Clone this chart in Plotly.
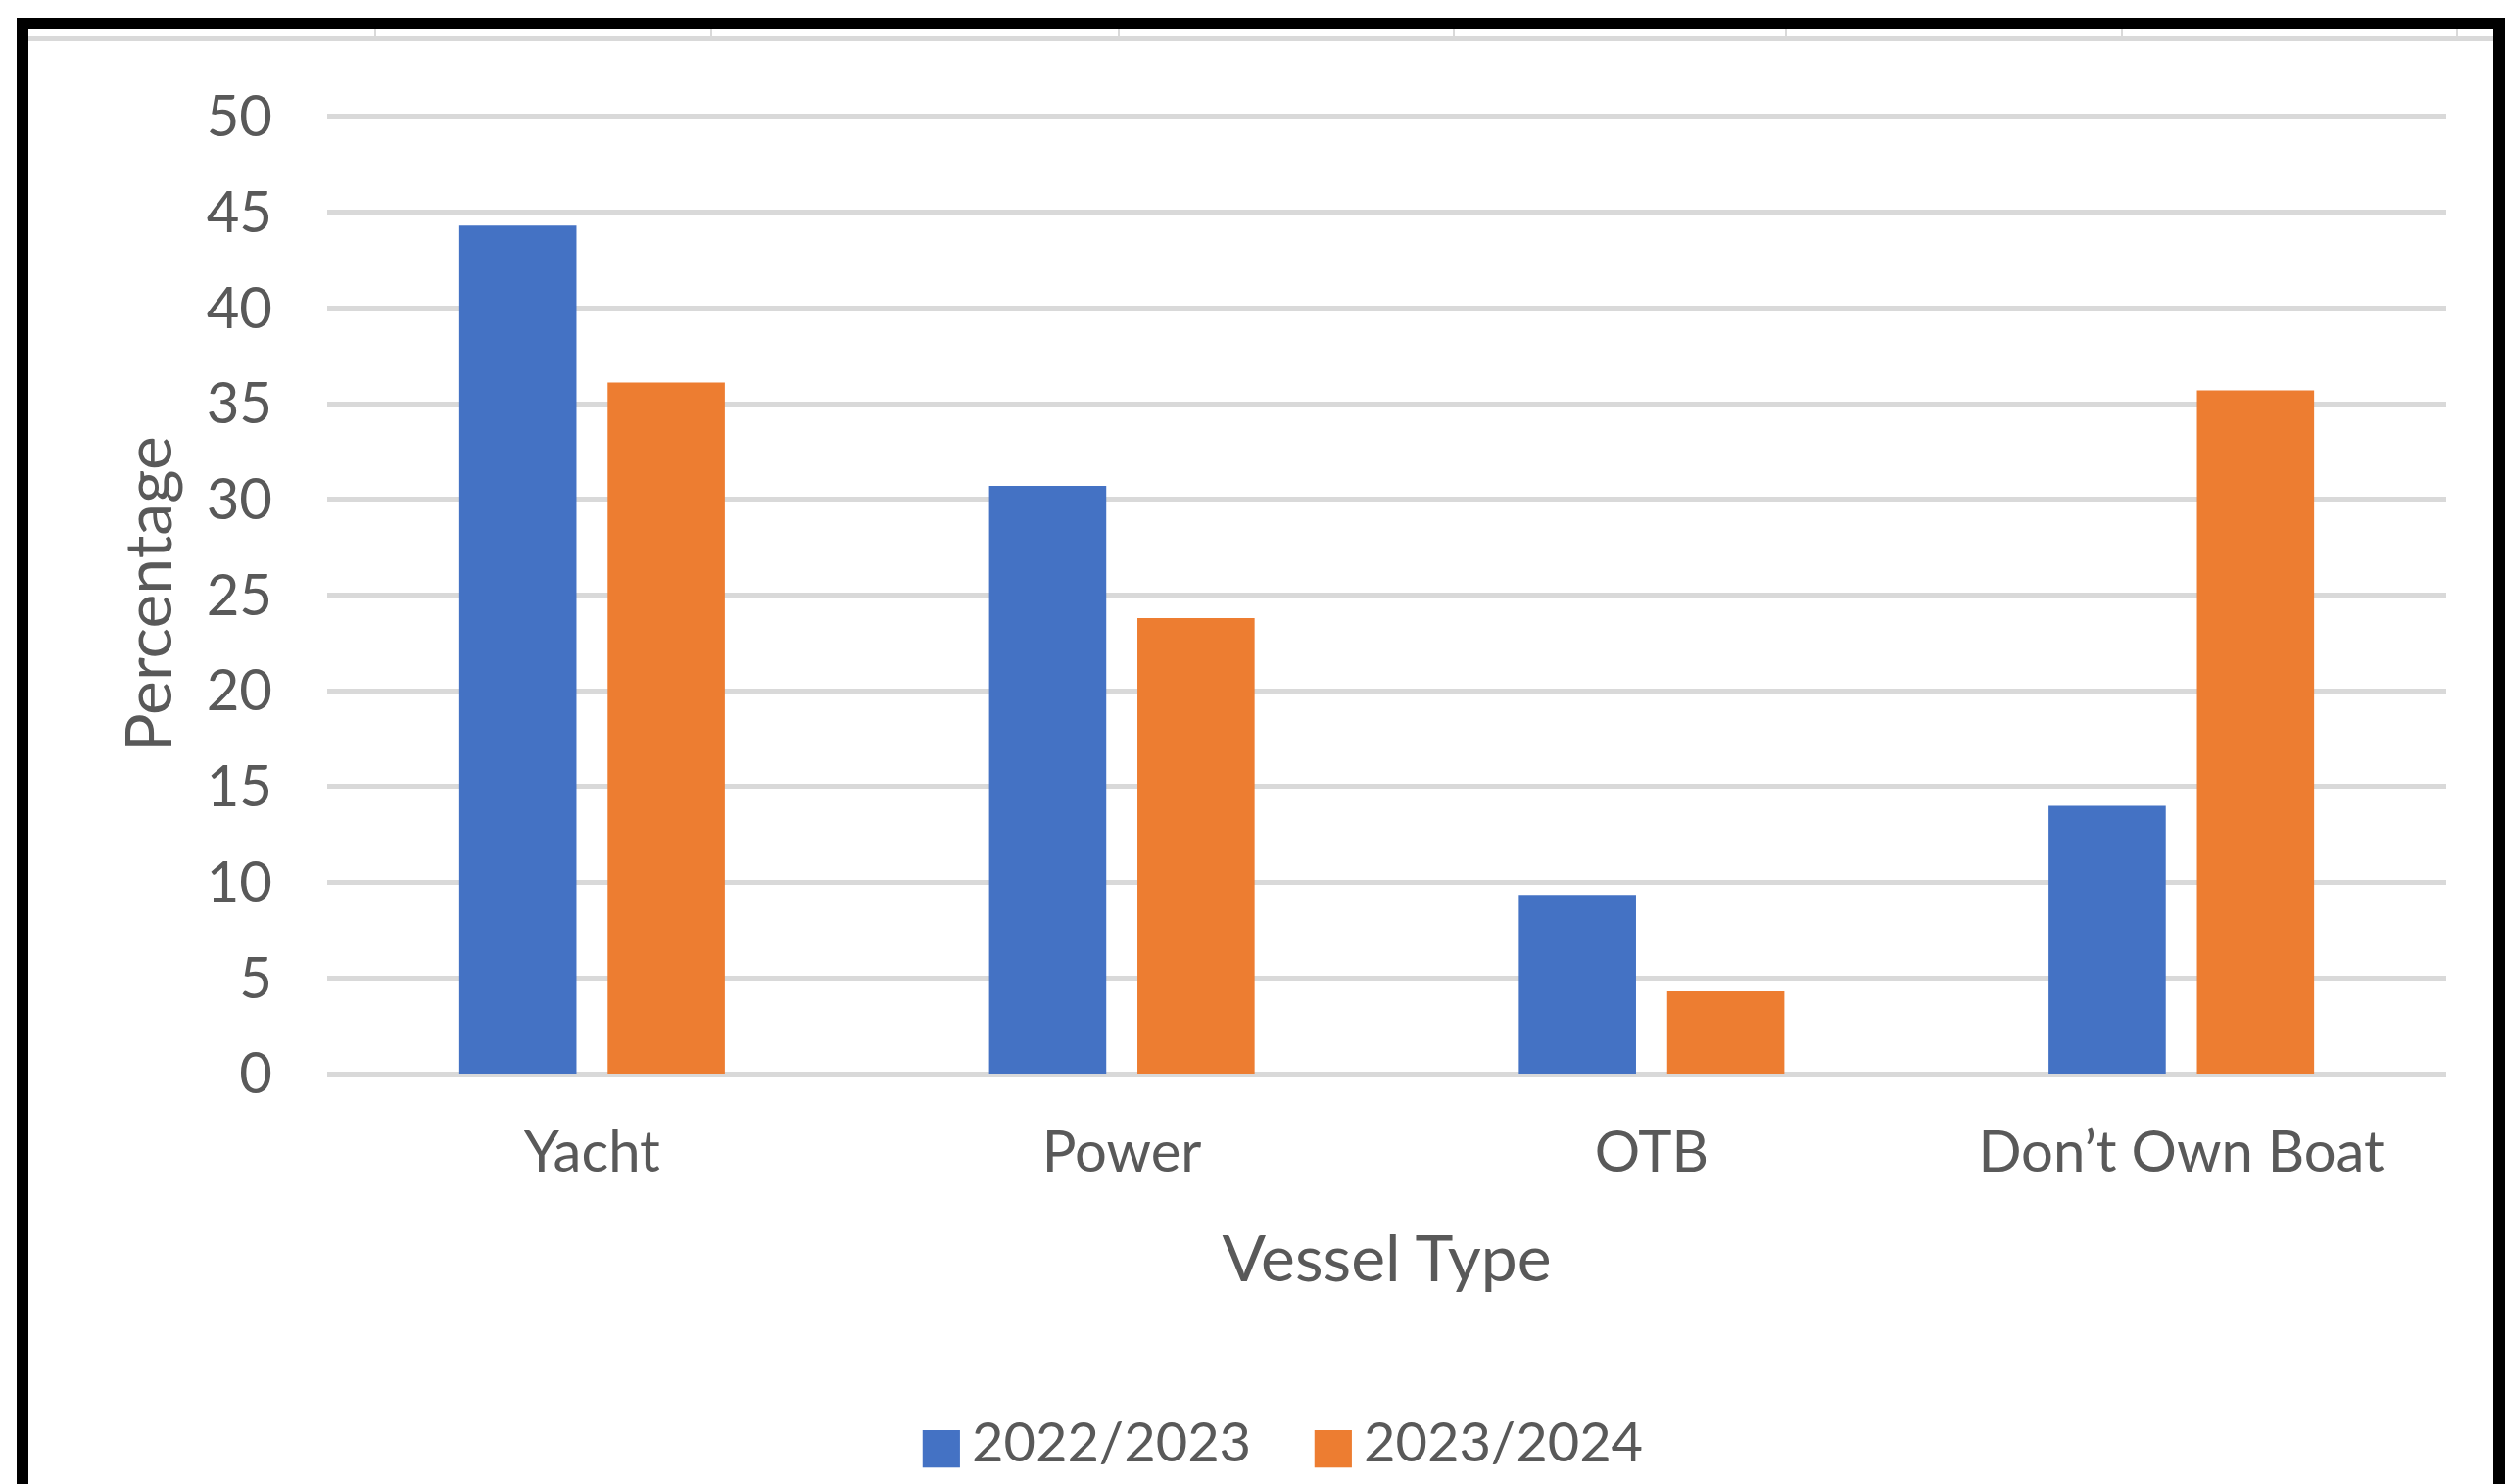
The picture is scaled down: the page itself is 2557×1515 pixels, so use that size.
import plotly.graph_objects as go

# ---- data ----
categories = ["Yacht", "Power", "OTB", "Don\u2019t Own Boat"]
series_names = ["2022/2023", "2023/2024"]
values_2022_2023 = [44.3, 30.7, 9.3, 14.0]
values_2023_2024 = [36.1, 23.8, 4.3, 35.7]
y_ticks = [0, 5, 10, 15, 20, 25, 30, 35, 40, 45, 50]

colors = ["#4472C4", "#ED7D31"]
text_color = "#595959"
grid_color = "#D9D9D9"
FONT = "Lato"
FS = 58
TITLE_FS = 66
LEG_FS = 56

W, H = 2557, 1515
L, R, T, B = 334, 60, 117, 419
PW, PH = W - L - R, H - T - B


def px(x):
    return (x - L) / PW


def py(y):
    return (H - B - y) / PH


fig = go.Figure()
for name, vals, col in zip(series_names, [values_2022_2023, values_2023_2024], colors):
    fig.add_trace(go.Bar(x=categories, y=vals, name=name, marker=dict(color=col, line=dict(width=0)),
                         showlegend=False))

# legend entries (large square swatches drawn as text glyphs)
for name, col in zip(series_names, colors):
    fig.add_trace(go.Scatter(
        x=[None], y=[None], mode="markers",
        marker=dict(color="rgba(0,0,0,0)", size=1),
        name=(f'<span style="color:{col};font-family:DejaVu Sans;font-size:50px">\u25A0</span>'
              f'<span style="font-size:30px"> </span>{name}'),
        showlegend=True))

# screenshot frame decorations (border of the original image)
shapes = []
def rect(x0, y0, x1, y1, color):
    shapes.append(dict(type="rect", xref="paper", yref="paper",
                       x0=px(x0), x1=px(x1), y0=py(y1), y1=py(y0),
                       fillcolor=color, line=dict(width=0), layer="above"))

rect(17, 18, 2557, 30, "black")
rect(17, 18, 29, 1515, "black")
rect(2545, 18, 2557, 1515, "black")
rect(29, 37, 2545, 42, grid_color)
for vx in [383, 726, 1142, 1484, 1823, 2166, 2508]:
    rect(vx - 1, 30, vx + 1, 37, grid_color)

fig.update_layout(
    width=W, height=H,
    margin=dict(l=L, r=R, t=T, b=B, autoexpand=False),
    paper_bgcolor="white", plot_bgcolor="white",
    font=dict(family=FONT, size=FS, color=text_color),
    barmode="group", bargap=0.44, bargroupgap=0.21,
    shapes=shapes,
    legend=dict(orientation="h", x=px(897), xanchor="left", y=py(1470), yanchor="middle",
                font=dict(family=FONT, size=LEG_FS, color=text_color),
                entrywidth=355, entrywidthmode="pixels", bgcolor="rgba(0,0,0,0)"),
    xaxis=dict(title=dict(text="Vessel Type", standoff=54, font=dict(size=TITLE_FS, color=text_color)),
               showgrid=False, zeroline=False, showline=False, ticks="",
               tickfont=dict(size=FS, color=text_color), ticklabelstandoff=41),
    yaxis=dict(title=dict(text="Percentage", standoff=13, font=dict(size=TITLE_FS, color=text_color)),
               range=[0, 50.1], tickvals=y_ticks, ticktext=[str(v) for v in y_ticks],
               showgrid=True, gridcolor=grid_color, gridwidth=5,
               zeroline=True, zerolinecolor=grid_color, zerolinewidth=5,
               showline=False, ticks="", tickfont=dict(size=FS, color=text_color),
               ticklabelstandoff=55),
)

fig.write_html("out.html", config={"displayModeBar": False},
               post_script="document.body.style.margin='0';")
